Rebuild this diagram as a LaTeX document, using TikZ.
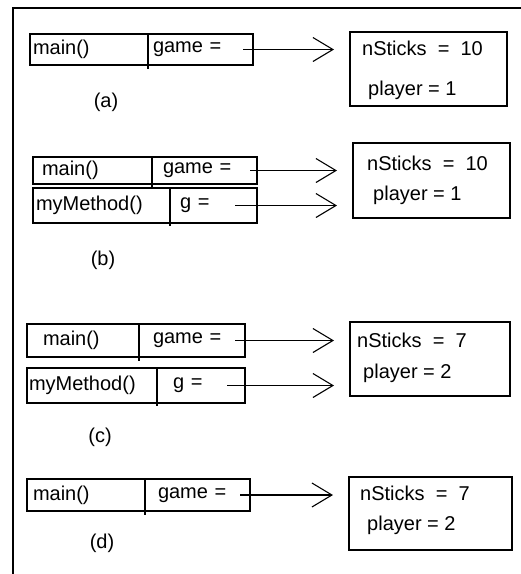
\documentclass[tikz,border=0pt]{standalone}
\usepackage{fontspec}
\setmainfont{Liberation Sans}
\usetikzlibrary{arrows.meta, positioning}

\begin{document}
\begin{tikzpicture}[
    x=1pt, y=-1pt,
    font=\fontsize{20}{24}\selectfont,
    cell/.style={draw, line width=1.1pt, outer sep=0pt, inner ysep=0pt,
                 align=left, anchor=north west},
    obj/.style={draw, line width=1.1pt, outer sep=0pt, anchor=north west},
    field/.style={anchor=west, inner sep=0pt},
    ptr/.style={-{Straight Barb[length=20pt, width=24pt]}, line width=1.1pt,
                shorten >=16pt},
    tick/.style={line width=1.1pt},
]
\useasboundingbox (0,0) rectangle (521,574);
\draw[line width=2.4pt] (13,574) -- (13,8) -- (521,8);

% (a)
\node[cell, text width=112pt, inner xsep=3pt, minimum height=31pt] (mainA) at (30,34) {main()};
\node[cell, text width=95pt, inner xsep=5pt, minimum height=31pt, right=0pt of mainA] (gameA) {game =};
\draw[tick] (gameA.south west) -- ++(0,4);
\node[obj, minimum width=157pt, minimum height=74pt] (objA) at (350,32) {};
\node[field] (nsA) at (362,48) {nSticks\ \ =\ \ 10};
\node[field] (plA) at (368,90) {player = 1};
\node (lblA) at (106,102) {(a)};
\draw[ptr] ([xshift=-10pt]gameA.east) -- (objA.west |- gameA.east);

% (b)
\node[cell, text width=101pt, inner xsep=9pt, minimum height=27pt] (mainB) at (33,157) {main()};
\node[cell, text width=83pt, inner xsep=11pt, minimum height=27pt, right=0pt of mainB] (gameB) {game =};
\draw[tick] (gameB.south west) -- ++(0,4);
\node[cell, text width=131pt, inner xsep=3pt, minimum height=35pt] (myB) at (33,188) {myMethod()};
\node[cell, text width=67pt, inner xsep=10pt, minimum height=35pt, right=0pt of myB] (gB) {g =};
\draw[tick] (gB.south west) -- ++(0,3);
\node[obj, minimum width=157pt, minimum height=75pt] (objB) at (353,143) {};
\node[field] (nsB) at (367,163) {nSticks\ \ =\ \ 10};
\node[field] (plB) at (373,195) {player = 1};
\node (lblB) at (103,260) {(b)};
\draw[ptr] ([xshift=-7pt]gameB.east) -- (objB.west |- gameB.east);
\draw[ptr] ([xshift=-22pt]gB.east) -- (objB.west |- gB.east);

% (c)
\node[cell, text width=80pt, inner xsep=16pt, minimum height=33pt] (mainC) at (27,324) {main()};
\node[cell, text width=78pt, inner xsep=14pt, minimum height=33pt, right=0pt of mainC] (gameC) {game =};
\draw[tick] (gameC.south west) -- ++(0,4);
\node[cell, text width=126pt, inner xsep=2pt, minimum height=35pt] (myC) at (27,368) {myMethod()};
\node[cell, text width=56pt, inner xsep=16pt, minimum height=35pt, right=0pt of myC] (gC) {g =};
\draw[tick] (gC.south west) -- ++(0,3);
\node[obj, minimum width=160pt, minimum height=74pt] (objC) at (350,322) {};
\node[field] (nsC) at (357,340) {nSticks\ \ =\ \ 7};
\node[field] (plC) at (363,373) {player = 2};
\node (lblC) at (100,437) {(c)};
\draw[ptr] ([xshift=-10pt]gameC.east) -- (objC.west |- gameC.east);
\draw[ptr] ([xshift=-18pt]gC.east) -- (objC.west |- gC.east);

% (d)
\node[cell, text width=106pt, inner xsep=6pt, minimum height=32pt] (mainD) at (27,479) {main()};
\node[cell, text width=79pt, inner xsep=13pt, minimum height=32pt, right=0pt of mainD] (gameD) {game =};
\draw[tick] (gameD.south west) -- ++(0,4);
\node[obj, minimum width=163pt, minimum height=73pt] (objD) at (349,477) {};
\node[field] (nsD) at (360,493) {nSticks\ \ =\ \ 7};
\node[field] (plD) at (367,525) {player = 2};
\node (lblD) at (102,543) {(d)};
\draw[ptr] ([xshift=-10pt]gameD.east) -- (objD.west |- gameD.east);

\end{tikzpicture}
\end{document}
